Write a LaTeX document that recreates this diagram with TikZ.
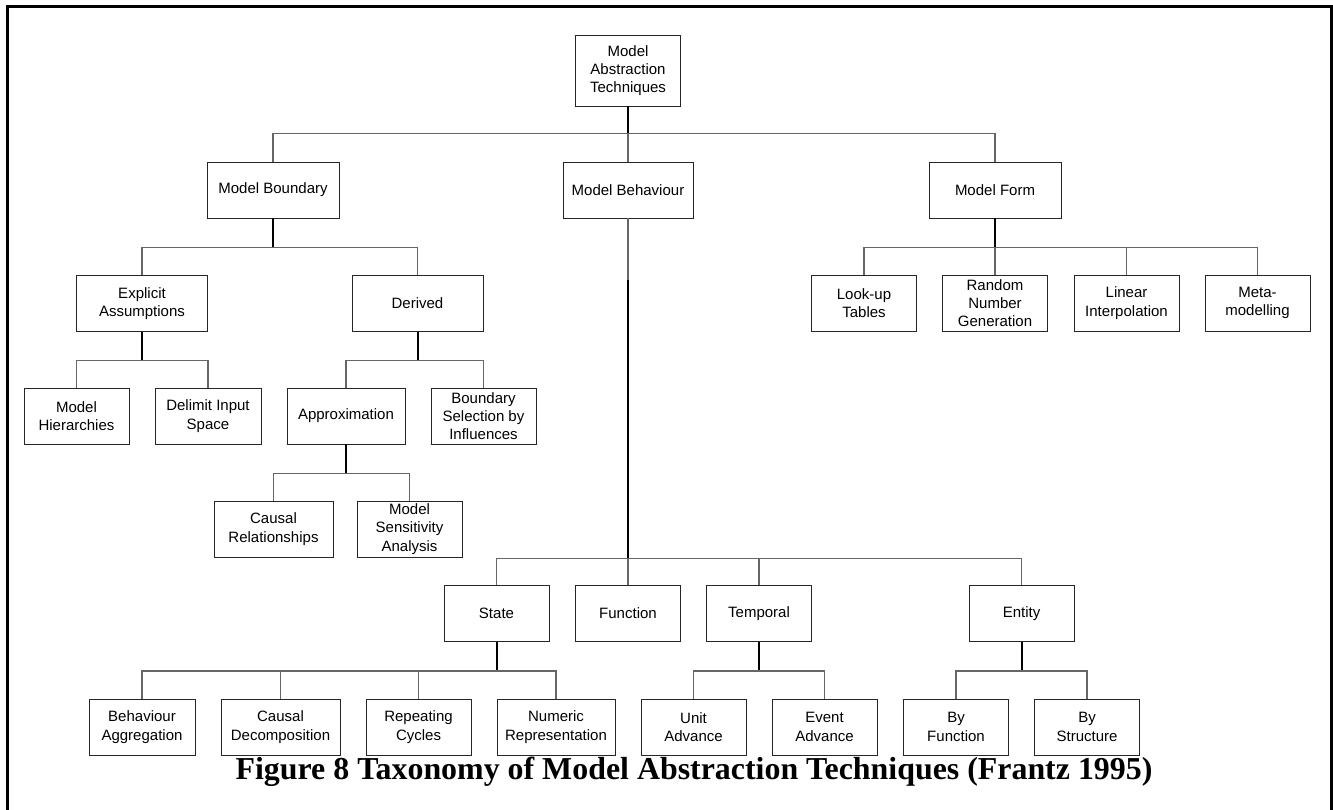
\documentclass[tikz,border=0pt]{standalone}
\usepackage{fontspec}
\setmainfont{Liberation Serif}
\newfontfamily\arialfont{Liberation Sans}

\begin{document}
\begin{tikzpicture}[x=1pt,y=-1pt,
  box/.style={draw=black!85,line width=0.9pt,minimum width=105pt,minimum height=56pt,
    inner sep=0pt,align=center,font=\arialfont\fontsize{15}{18.3}\selectfont},
  bar/.style={line width=1.2pt,black!60},
  stub/.style={line width=2pt,black}]
\useasboundingbox (0,0) rectangle (1333,810);
\draw[line width=3pt] (7,810) -- (7,7) -- (1331,7) -- (1331,810);

\node[box,minimum height=71pt] (root) at (628,70.5) {Model\\Abstraction\\Techniques};

\node[box,minimum width=132pt] (mbound) at (273,190) {Model Boundary};
\node[box,minimum width=130pt] (mbeh) at (628,190) {Model Behaviour};
\node[box,minimum width=132pt] (mform) at (995,190) {Model Form};

\node[box,minimum width=131pt] (expl) at (142,303.5) {Explicit\\Assumptions};
\node[box,minimum width=131pt] (deriv) at (417.5,303.5) {Derived};
\node[box] (hier) at (76.5,416) {Model\\Hierarchies};
\node[box,minimum width=106pt] (delim) at (208,416) {Delimit Input\\Space};
\node[box,minimum width=118pt] (approx) at (346,416) {Approximation};
\node[box] (bsel) at (483.5,416) {Boundary\\Selection by\\Influences};
\node[box,minimum width=119pt] (crel) at (273.5,529) {Causal\\Relationships};
\node[box] (msens) at (409.5,529) {Model\\Sensitivity\\Analysis};

\node[box] (lookup) at (864,303) {Look-up\\Tables};
\node[box] (random) at (995,303) {Random\\Number\\Generation};
\node[box] (linear) at (1126.5,303) {Linear\\Interpolation};
\node[box] (meta) at (1257.5,303) {Meta-\\modelling};

\node[box] (state) at (496.5,613.5) {State};
\node[box] (func) at (628,613.5) {Function};
\node[box] (temporal) at (759,613.5) {Temporal};
\node[box] (entity) at (1021.5,613.5) {Entity};

\node[box,minimum width=106pt] (ba) at (142,727) {Behaviour\\Aggregation};
\node[box,minimum width=119pt] (cd) at (280.5,727) {Causal\\Decomposition};
\node[box] (rc) at (418.5,727) {Repeating\\Cycles};
\node[box,minimum width=118pt] (nr) at (556,727) {Numeric\\Representation};
\node[box] (ua) at (693.5,727) {Unit\\Advance};
\node[box] (ea) at (824.5,727) {Event\\Advance};
\node[box] (bf) at (956,727) {By\\Function};
\node[box] (bs) at (1087,727) {By\\Structure};

\node[font=\fontsize{31.9}{36}\selectfont\bfseries,anchor=base] (caption) at (694,779)
  {Figure 8 Taxonomy of Model Abstraction Techniques (Frantz 1995)};

\draw[stub] (root.south) -- ++(0,27) coordinate (j0);
\draw[bar] (mbound.north) |- (j0) -| (mform.north);
\draw[bar] (j0) -- (mbeh.north);

\draw[stub] (mbound.south) -- ++(0,29) coordinate (j1);
\draw[bar] (expl.north) |- (j1) -| (deriv.north);
\draw[stub] (expl.south) -- ++(0,28.5) coordinate (j2);
\draw[bar] (hier.north) |- (j2) -| (delim.north);
\draw[stub] (deriv.south) -- ++(0,28.5) coordinate (j3);
\draw[bar] (approx.north) |- (j3) -| (bsel.north);
\draw[stub] (approx.south) -- ++(0,29) coordinate (j4);
\draw[bar] (crel.north) |- (j4) -| (msens.north);

\draw[stub] (mform.south) -- ++(0,29) coordinate (j5);
\draw[bar] (lookup.north) |- (j5) -| (meta.north);
\draw[bar] (j5) -- (random.north);
\draw[bar] (linear.north) -- (linear.north |- j5);

\draw[bar] (mbeh.south) -- ++(0,62) coordinate (k);
\draw[stub] (k) -- ++(0,278) coordinate (j6);
\draw[bar] (state.north) |- (j6) -| (entity.north);
\draw[bar] (j6) -- (func.north);
\draw[bar] (temporal.north) -- (temporal.north |- j6);

\draw[stub] (state.south) -- ++(0,29) coordinate (j7);
\draw[bar] (ba.north) |- (j7) -| (nr.north);
\draw[bar] (cd.north) -- (cd.north |- j7);
\draw[bar] (rc.north) -- (rc.north |- j7);
\draw[stub] (temporal.south) -- ++(0,29) coordinate (j8);
\draw[bar] (ua.north) |- (j8) -| (ea.north);
\draw[stub] (entity.south) -- ++(0,29) coordinate (j9);
\draw[bar] (bf.north) |- (j9) -| (bs.north);
\end{tikzpicture}
\end{document}
